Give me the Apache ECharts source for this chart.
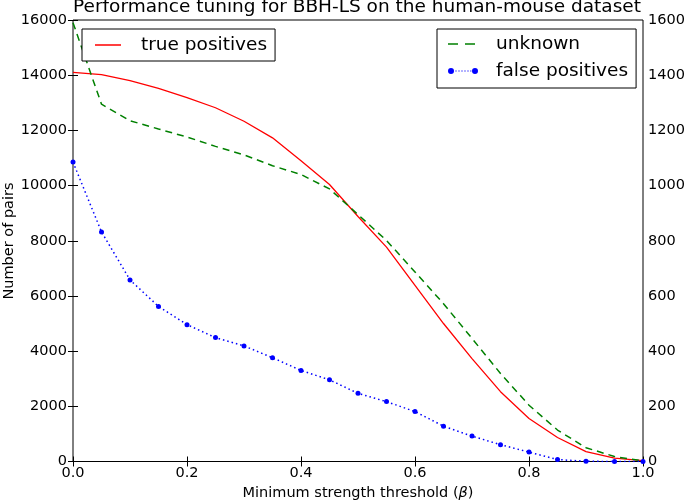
<!DOCTYPE html>
<html>
<head>
<meta charset="utf-8">
<script src="https://cdn.jsdelivr.net/npm/echarts@6/dist/echarts.min.js"></script>
<style>html,body{margin:0;padding:0;background:#fff;}#c{width:685px;height:500px;}</style>
</head>
<body>
<div id="c"></div>
<script>
var betas = [0.0, 0.05, 0.1, 0.15, 0.2, 0.25, 0.3, 0.35, 0.4, 0.45, 0.5, 0.55, 0.6, 0.65, 0.7, 0.75, 0.8, 0.85, 0.9, 0.95, 1.0];
var truePositives = [14100, 14020, 13800, 13520, 13190, 12820, 12330, 11730, 10900, 10040, 8880, 7770, 6380, 5000, 3730, 2530, 1560, 870, 360, 120, 30];
var unknown = [15900, 12950, 12350, 12050, 11760, 11420, 11110, 10720, 10400, 9880, 8950, 8010, 6870, 5720, 4460, 3190, 2040, 1140, 500, 180, 20];
var falsePositives = [1085, 832, 658, 562, 496, 449, 419, 376, 330, 296, 247, 217, 181, 128, 92, 61, 34, 7, 1, 0, 0];
var leftTicks = {min: 0, max: 16000, interval: 2000};
var rightTicks = {min: 0, max: 1600, interval: 200};
var xTicks = {min: 0, max: 1, interval: 0.2};

function pairs(xs, ys) { return xs.map(function (x, i) { return [x, ys[i]]; }); }

var FONT = 'DejaVu Sans';
var chart = echarts.init(document.getElementById('c'), null, {renderer: 'canvas'});
var corners = function (w, h) { return ' M0,0h0.01v0.01h-0.01z M' + (w - 0.01) + ',' + (h - 0.01) + 'h0.01v0.01h-0.01z'; };
var tpIcon = 'path://M0,2.35h26v1.3h-26z' + corners(26, 6);
var unIcon = 'path://M0,2.25h10v1.5h-10z M17,2.25h10v1.5h-10z' + corners(30, 6);
var fpIcon = 'path://M0,3a3,3 0 1,0 6,0a3,3 0 1,0 -6,0z M24,3a3,3 0 1,0 6,0a3,3 0 1,0 -6,0z' +
  ' M7.4,2.4h1.2v1.2h-1.2z M10.4,2.4h1.2v1.2h-1.2z M13.4,2.4h1.2v1.2h-1.2z M16.4,2.4h1.2v1.2h-1.2z M19.4,2.4h1.2v1.2h-1.2z M22.2,2.4h1.2v1.2h-1.2z';
var plain = function (v) { return String(v); };

chart.setOption({
  animation: false,
  backgroundColor: '#fff',
  title: {
    text: 'Performance tuning for BBH-LS on the human-mouse dataset',
    left: 357, textAlign: 'center', top: -2, padding: 0,
    textStyle: {fontFamily: FONT, fontSize: 18.5, fontWeight: 'normal', color: '#000'}
  },
  graphic: [{
    type: 'text', x: 9, y: 241, rotation: Math.PI / 2,
    style: {text: 'Number of pairs', x: 0, y: 0, align: 'center', verticalAlign: 'middle',
      fontFamily: FONT, fontSize: 14.5, fill: '#000'}
  }],
  grid: {left: 73, right: 42, top: 20, bottom: 38.5, containLabel: false, outerBoundsMode: 'none',
    show: true, borderColor: '#000', borderWidth: 1, backgroundColor: 'transparent'},
  legend: [{
    data: [{name: 'true positives', icon: tpIcon}],
    left: 82, top: 29, orient: 'vertical',
    padding: [6, 8, 6, 13],
    borderColor: '#000', borderWidth: 1, borderRadius: 0, backgroundColor: '#fff',
    itemWidth: 26, itemHeight: 6,
    textStyle: {fontFamily: FONT, fontSize: 18.5, color: '#000', lineHeight: 20, padding: [0, 0, 0, 15]}
  }, {
    data: [{name: 'unknown', icon: unIcon}, {name: 'false positives', icon: fpIcon}],
    left: 437, top: 29, orient: 'vertical',
    padding: [5, 8, 7, 11], itemGap: 7,
    borderColor: '#000', borderWidth: 1, borderRadius: 0, backgroundColor: '#fff',
    itemWidth: 30, itemHeight: 6,
    textStyle: {fontFamily: FONT, fontSize: 18.5, color: '#000', lineHeight: 20, padding: [0, 0, 0, 13]}
  }],
  xAxis: [{
    type: 'value', min: xTicks.min, max: xTicks.max, interval: xTicks.interval,
    name: 'Minimum strength threshold ({b|β})', nameLocation: 'middle', nameGap: 24,
    nameTextStyle: {fontFamily: FONT, fontSize: 14.5, color: '#000', rich: {b: {fontFamily: FONT, fontSize: 14.5, fontStyle: 'italic', color: '#000'}}},
    axisLine: {show: false},
    axisTick: {inside: true, length: 5, lineStyle: {color: '#000'}},
    axisLabel: {fontFamily: FONT, fontSize: 14.5, color: '#000', margin: 4, formatter: function (v) { return v.toFixed(1); }},
    splitLine: {show: false}
  }, {
    type: 'value', position: 'top', min: xTicks.min, max: xTicks.max, interval: xTicks.interval,
    axisLine: {show: false},
    axisTick: {inside: true, length: 5, lineStyle: {color: '#000'}},
    axisLabel: {show: false}, splitLine: {show: false}
  }],
  yAxis: [{
    type: 'value', position: 'left', min: leftTicks.min, max: leftTicks.max, interval: leftTicks.interval,
    axisLine: {show: false},
    axisTick: {inside: true, length: 5, lineStyle: {color: '#000'}},
    axisLabel: {fontFamily: FONT, fontSize: 14.5, color: '#000', margin: 6, formatter: plain},
    splitLine: {show: false}
  }, {
    type: 'value', position: 'right', min: rightTicks.min, max: rightTicks.max, interval: rightTicks.interval,
    axisLine: {show: false},
    axisTick: {inside: true, length: 5, lineStyle: {color: '#000'}},
    axisLabel: {fontFamily: FONT, fontSize: 14.5, color: '#000', margin: 5, formatter: plain},
    splitLine: {show: false}
  }],
  series: [{
    name: 'true positives', type: 'line', xAxisIndex: 0, yAxisIndex: 0,
    data: pairs(betas, truePositives), symbol: 'none', color: '#ff0000',
    lineStyle: {color: '#ff0000', width: 1.3}
  }, {
    name: 'unknown', type: 'line', xAxisIndex: 0, yAxisIndex: 0,
    data: pairs(betas, unknown), symbol: 'none', color: '#008000',
    lineStyle: {color: '#008000', width: 1.5, type: [7, 5]}
  }, {
    name: 'false positives', type: 'line', xAxisIndex: 0, yAxisIndex: 1,
    data: pairs(betas, falsePositives), symbol: 'circle', symbolSize: 5, color: '#0000ff',
    itemStyle: {color: '#0000ff'},
    lineStyle: {color: '#0000ff', width: 1.5, type: [1.5, 3]}
  }]
});
</script>
</body>
</html>
